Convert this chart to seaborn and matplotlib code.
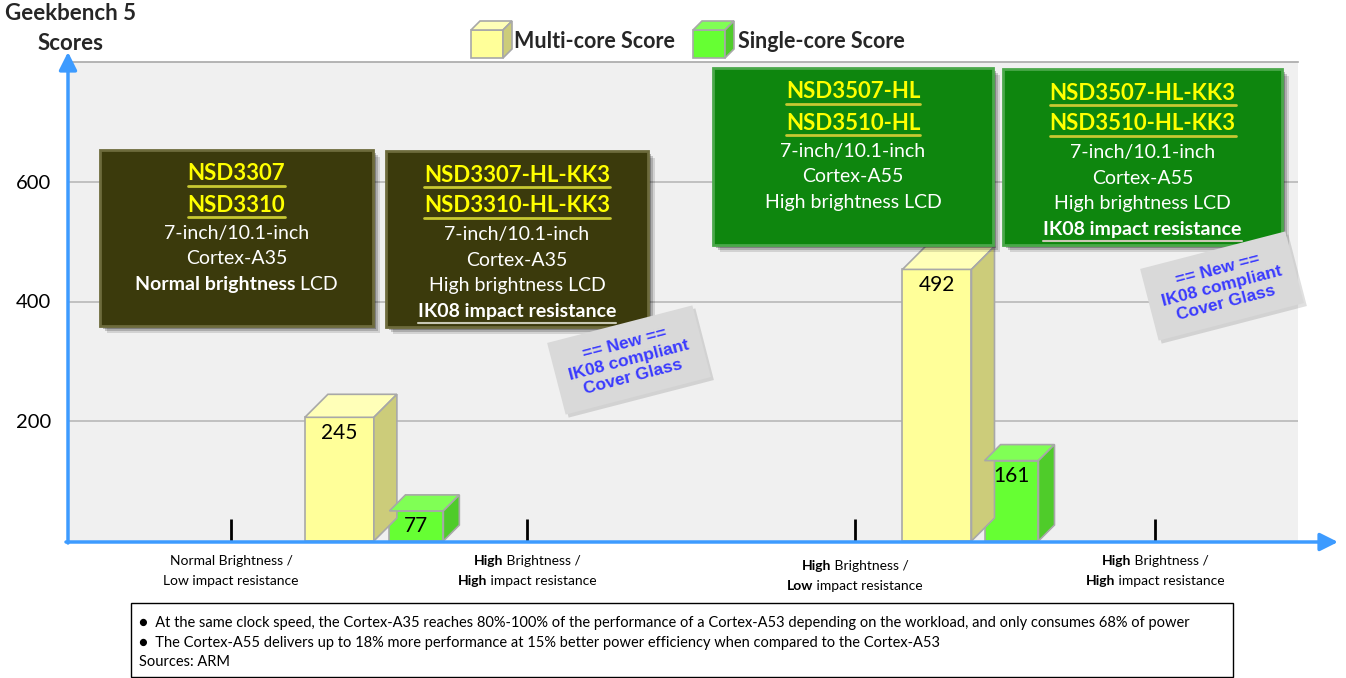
import matplotlib
matplotlib.use("Agg")
import matplotlib.pyplot as plt
import matplotlib.patches as mpatches
import matplotlib.transforms as mtransforms
from matplotlib.lines import Line2D
import numpy as np
import seaborn as sns

# ---- data ----
groups = ["Cortex-A35", "Cortex-A55"]
multi_core = [245, 492]
single_core = [77, 161]
y_ticks = [200, 400, 600]

cat_line1 = [[("Normal Brightness /", False)],
             [("High", True), (" Brightness /", False)],
             [("High", True), (" Brightness /", False)],
             [("High", True), (" Brightness /", False)]]
cat_line2 = [[("Low impact resistance", False)],
             [("High", True), (" impact resistance", False)],
             [("Low", True), (" impact resistance", False)],
             [("High", True), (" impact resistance", False)]]

box_models = [["NSD3307", "NSD3310"],
              ["NSD3307-HL-KK3", "NSD3310-HL-KK3"],
              ["NSD3507-HL", "NSD3510-HL"],
              ["NSD3507-HL-KK3", "NSD3510-HL-KK3"]]
box_specs = [
    [[("7-inch/10.1-inch", False)], [("Cortex-A35", False)],
     [("Normal brightness", True), (" LCD", False)]],
    [[("7-inch/10.1-inch", False)], [("Cortex-A35", False)],
     [("High brightness LCD", False)], [("IK08 impact resistance", True)]],
    [[("7-inch/10.1-inch", False)], [("Cortex-A55", False)],
     [("High brightness LCD", False)]],
    [[("7-inch/10.1-inch", False)], [("Cortex-A55", False)],
     [("High brightness LCD", False)], [("IK08 impact resistance", True)]],
]
note_lines = ["== New ==", "IK08 compliant", "Cover Glass"]
footnotes = [
    "\u25CF  At the same clock speed, the Cortex-A35 reaches 80%-100% of the performance of a Cortex-A53 depending on the workload, and only consumes 68% of power",
    "\u25CF  The Cortex-A55 delivers up to 18% more performance at 15% better power efficiency when compared to the Cortex-A53",
    "Sources: ARM",
]

# ---- layout (pixels, top-left origin) ----
W, H = 1346, 678
tick_pos = [0, 0.961, 2.026, 3]
multi_x = [0.352, 2.292]
single_x = [0.602, 2.534]
multi_w, single_w = 0.224, 0.175
box_rects = [(100, 150, 373, 326), (386, 151, 648, 327),
             (713, 68, 993, 245), (1003, 69, 1282, 245)]
box_colors = ["#3b3a0c", "#3b3a0c", "#0e860e", "#0e860e"]
box_edges = ["#6d6b3c", "#6d6b3c", "#4aa84a", "#4aa84a"]
notes_at = [(629, 360), (1222, 286)]

sns.set_theme(style="white")
plt.rcParams["font.family"] = ["Lato", "DejaVu Sans"]

fig = plt.figure(figsize=(W / 100, H / 100), dpi=100)
ax = fig.add_axes([68 / W, 1 - 541 / H, (1298 - 68) / W, (541 - 62) / H])
ax.set_facecolor("#f0f0f0")
ax.set_xlim(-0.529, 3.464)
ax.set_ylim(0, 800)
ID = mtransforms.IdentityTransform()


def P(x, y):
    return (x, H - y)


# bars
n0 = len(ax.patches)
sns.barplot(x=multi_x, y=multi_core, native_scale=True, orient="x",
            width=multi_w / (multi_x[1] - multi_x[0]), color="#ffff99",
            saturation=1, edgecolor="#a8a8a8", linewidth=1.2, errorbar=None,
            ax=ax, zorder=3)
multi_patches = ax.patches[n0:]
n1 = len(ax.patches)
sns.barplot(x=single_x, y=single_core, native_scale=True, orient="x",
            width=single_w / (single_x[1] - single_x[0]), color="#66ff33",
            saturation=1, edgecolor="#a8a8a8", linewidth=1.2, errorbar=None,
            ax=ax, zorder=3)
single_patches = ax.patches[n1:]
ax.set_xlim(-0.529, 3.464)
ax.set_ylim(0, 800)

px_x = 1230 / (3.464 + 0.529)
px_y = 479 / 800


def make_3d(patches, values, depth, top_c, side_c):
    dxd, dyd = depth / px_x, depth / px_y
    for p, v in zip(patches, values):
        x, w = p.get_x(), p.get_width()
        ft = v - dyd
        p.set_height(ft)
        top = [(x, ft), (x + dxd, v), (x + w + dxd, v), (x + w, ft)]
        side = [(x + w, 0), (x + w + dxd, dyd), (x + w + dxd, v), (x + w, ft)]
        ax.add_patch(mpatches.Polygon(top, closed=True, fc=top_c, ec="#a8a8a8", lw=1.2, zorder=3))
        ax.add_patch(mpatches.Polygon(side, closed=True, fc=side_c, ec="#a8a8a8", lw=1.2, zorder=3))
        ax.annotate(str(v), xy=(x + w / 2, ft), xytext=(0, -4), textcoords="offset points",
                    ha="center", va="top", fontsize=15, color="black", zorder=5)


make_3d(multi_patches, multi_core, 23, "#ffffb8", "#cccc7a")
make_3d(single_patches, single_core, 16, "#80ff55", "#4fcc2a")

# axes styling
ax.set_yticks(y_ticks)
ax.set_yticklabels([str(v) for v in y_ticks])
ax.tick_params(axis="y", length=0, labelsize=14.5, pad=12, labelcolor="black")
ax.yaxis.grid(True, color="#b8b8b8", lw=1.2)
ax.set_axisbelow(True)
ax.set_xticks(tick_pos)
ax.set_xticklabels([])
ax.tick_params(axis="x", direction="in", length=16, width=2, color="black", bottom=True)
for s in ["left", "right", "bottom"]:
    ax.spines[s].set_visible(False)
ax.spines["top"].set_color("#a8a8a8")
ax.spines["top"].set_linewidth(1.2)
ax.set_xlabel("")
ax.set_ylabel("")

# axis arrows
arrow = dict(arrowstyle="-|>,head_length=0.9,head_width=0.45", color="#3d9bff",
             lw=2.5, shrinkA=0, shrinkB=0)
ax.annotate("", xy=P(1338, 542), xytext=P(66, 542), xycoords="figure pixels",
            textcoords="figure pixels", arrowprops=arrow, annotation_clip=False)
ax.annotate("", xy=P(68, 52), xytext=P(68, 543), xycoords="figure pixels",
            textcoords="figure pixels", arrowprops=arrow, annotation_clip=False)

renderer = fig.canvas.get_renderer()


def rich(x, y, segs, size, color="black", zorder=6):
    texts = []
    for s, b in segs:
        t = fig.text(0, 0, s, transform=ID, fontsize=size, color=color,
                     fontweight="bold" if b else "normal", ha="left",
                     va="center_baseline", zorder=zorder)
        texts.append(t)
    widths = [t.get_window_extent(renderer).width for t in texts]
    cx = x - sum(widths) / 2
    for t, w in zip(texts, widths):
        t.set_position(P(cx, y))
        cx += w
    return sum(widths)


# titles
fig.text(*P(5, 14), "Geekbench 5", transform=ID, fontsize=16, fontweight="bold",
         ha="left", va="center")
fig.text(*P(38, 43), "Scores", transform=ID, fontsize=16, fontweight="bold",
         ha="left", va="center")


# legend cubes
def cube(x0, y0, w, h, d, front, top, side):
    pts = {
        "front": [(x0, y0), (x0 + w, y0), (x0 + w, y0 + h), (x0, y0 + h)],
        "top": [(x0, y0), (x0 + d, y0 - d), (x0 + w + d, y0 - d), (x0 + w, y0)],
        "side": [(x0 + w, y0), (x0 + w + d, y0 - d), (x0 + w + d, y0 + h - d), (x0 + w, y0 + h)],
    }
    for k, c in [("front", front), ("top", top), ("side", side)]:
        fig.add_artist(mpatches.Polygon([P(*q) for q in pts[k]], closed=True, fc=c,
                                        ec="#a8a8a8", lw=1.2, transform=ID))


cube(471, 30, 32, 28, 9, "#ffff99", "#ffffb8", "#cccc7a")
cube(693, 30, 32, 28, 9, "#66ff33", "#80ff55", "#4fcc2a")
fig.text(*P(514, 41), "Multi-core Score", transform=ID, fontsize=15.5, fontweight="bold",
         ha="left", va="center")
fig.text(*P(738, 42), "Single-core Score", transform=ID, fontsize=15.5, fontweight="bold",
         ha="left", va="center")

# product boxes
for (x0, y0, x1, y1), fc, ec, models, specs in zip(box_rects, box_colors, box_edges,
                                                   box_models, box_specs):
    for off, a in [(7, 0.12), (5, 0.18), (3, 0.25)]:
        fig.add_artist(mpatches.Rectangle(P(x0 + off, y1 + off), x1 - x0, y1 - y0,
                                          fc="black", ec="none", alpha=a, transform=ID, zorder=4))
    fig.add_artist(mpatches.Rectangle(P(x0, y1), x1 - x0, y1 - y0, fc=fc, ec=ec, lw=2,
                                      transform=ID, zorder=4))
    cx = (x0 + x1) / 2
    for i, m in enumerate(models):
        yy = y0 + 22 + 31 * i
        w = rich(cx, yy, [(m, True)], 16, color="#ffff00")
        fig.add_artist(Line2D([cx - w / 2, cx + w / 2], [H - yy - 14] * 2, color="#c8c832",
                              lw=2, transform=ID, zorder=6))
    for j, segs in enumerate(specs):
        yy = y0 + 82 + 25.5 * j
        w = rich(cx, yy, segs, 14, color="white")
        if segs[0][0].startswith("IK08"):
            fig.add_artist(Line2D([cx - w / 2, cx + w / 2], [H - yy - 13] * 2, color="#c8c8b4",
                                  lw=1.5, transform=ID, zorder=6))

# rotated notes
th = np.deg2rad(14.5)
for cx, cy in notes_at:
    corners = []
    for u, v in [(-75, -37), (75, -37), (75, 37), (-75, 37)]:
        corners.append(P(cx + u * np.cos(th) + v * np.sin(th), cy - u * np.sin(th) + v * np.cos(th)))
    shadow = [(a + 3, b - 3) for a, b in corners]
    fig.add_artist(mpatches.Polygon(shadow, closed=True, fc="black", alpha=0.12, ec="none",
                                    transform=ID, zorder=7))
    fig.add_artist(mpatches.Polygon(corners, closed=True, fc="#d9d9d9", ec="none",
                                    transform=ID, zorder=7))
    for k, line in zip([-1, 0, 1], note_lines):
        tx, ty = cx + k * 17 * np.sin(th), cy + k * 17 * np.cos(th)
        fig.text(*P(tx, ty), line, transform=ID, fontsize=12.5, fontweight="bold",
                 family=["Liberation Sans", "DejaVu Sans"], color="#3a3aff", rotation=14.5,
                 rotation_mode="anchor", ha="center", va="center", zorder=8)

# category labels
cat_y = [560, 560, 565, 560]
for pos, l1, l2, yy in zip(tick_pos, cat_line1, cat_line2, cat_y):
    xpx = ax.transData.transform((pos, 0))[0]
    rich(xpx, yy, l1, 10)
    rich(xpx, yy + 20, l2, 10)

# footnote box
fig.add_artist(mpatches.Rectangle(P(131, 677), 1102, 74, fill=False, ec="black", lw=1,
                                  transform=ID))
for yy, line in zip([621, 641, 660], footnotes):
    fig.text(*P(139, yy), line, transform=ID, fontsize=10.5, ha="left",
             va="center_baseline", color="black")

fig.savefig("out.png", dpi=100)
